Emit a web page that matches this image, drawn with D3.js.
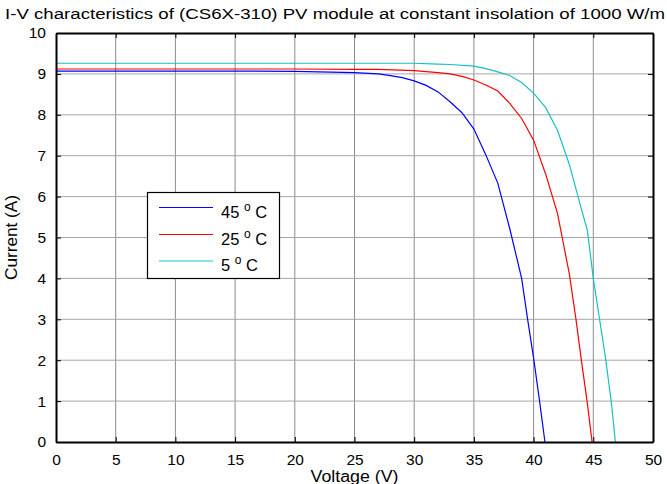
<!DOCTYPE html>
<html>
<head>
<meta charset="utf-8">
<script src="https://cdn.jsdelivr.net/npm/d3@7"></script>
<style>
  html, body { margin: 0; padding: 0; background: #fff; }
  svg { display: block; font-family: "Liberation Sans", Arial, sans-serif; }
</style>
</head>
<body>
<svg id="chart" width="667" height="484"></svg>
<script>
// ---- data ----
const titleText = "I-V characteristics of (CS6X-310) PV module at constant insolation of 1000 W/m";
const xLabel = "Voltage (V)";
const yLabel = "Current (A)";
const xTicks = [0, 5, 10, 15, 20, 25, 30, 35, 40, 45, 50];
const yTicks = [0, 1, 2, 3, 4, 5, 6, 7, 8, 9, 10];
const seriesNames = ["45", "25", "5"];
const seriesColors = ["#0000ff", "#ff0000", "#19bfbf"];

const v45 = [0, 5, 10, 15, 20, 25, 27, 28, 29, 30, 31, 32, 33, 34, 35, 36, 37, 38, 39, 39.5, 40, 40.5, 40.95];
const i45 = [9.07, 9.07, 9.07, 9.07, 9.06, 9.03, 9.00, 8.96, 8.91, 8.83, 8.72, 8.56, 8.32, 8.05, 7.65, 7.02, 6.33, 5.22, 4.0, 3.0, 2.05, 1.0, 0];

const v25 = [0, 10, 20, 25, 27, 30, 32, 33, 34, 35, 36, 37, 38, 39, 40, 41, 42, 43, 43.55, 44, 44.5, 44.9];
const i25 = [9.12, 9.12, 9.12, 9.11, 9.11, 9.08, 9.03, 9.00, 8.94, 8.85, 8.73, 8.58, 8.28, 7.91, 7.38, 6.56, 5.59, 4.1, 3.0, 2.0, 0.95, 0];

const v5 = [0, 10, 20, 30, 32, 33, 35, 36, 37, 38, 39, 40, 41, 42, 43, 44, 44.5, 45, 45.5, 46, 46.5, 46.85];
const i5 = [9.26, 9.26, 9.26, 9.26, 9.24, 9.23, 9.19, 9.13, 9.05, 8.96, 8.79, 8.53, 8.18, 7.62, 6.78, 5.7, 5.18, 4.0, 3.05, 2.1, 1.0, 0];

const seriesV = [v45, v25, v5];
const seriesI = [i45, i25, i5];

// ---- layout ----
const svg = d3.select("#chart");
const L = 56, R = 653, T = 33, B = 442;
const x = d3.scaleLinear().domain([0, 50]).range([L, R]);
const y = d3.scaleLinear().domain([0, 10]).range([B, T]);

// grid
const grid = svg.append("g");
grid.selectAll("line.vg").data(xTicks.slice(1, -1)).enter().append("line")
  .attr("x1", d => x(d)).attr("x2", d => x(d)).attr("y1", T).attr("y2", B)
  .attr("stroke", "#8c8c8c").attr("stroke-width", 1);
grid.selectAll("line.hg").data(yTicks.slice(1, -1)).enter().append("line")
  .attr("x1", L).attr("x2", R).attr("y1", d => y(d)).attr("y2", d => y(d))
  .attr("stroke", "#a6a6a6").attr("stroke-width", 1);

// curves
const line = d3.line().x(d => x(d[0])).y(d => y(d[1]));
seriesV.forEach((vs, k) => {
  const pts = vs.map((v, j) => [v, seriesI[k][j]]);
  svg.append("path").datum(pts).attr("d", line)
    .attr("fill", "none").attr("stroke", seriesColors[k]).attr("stroke-width", 1.2);
});

// axes (inner ticks)
const tickLen = 5;
const xb = svg.append("g").attr("transform", `translate(0,${B})`)
  .call(d3.axisBottom(x).tickValues(xTicks).tickSizeInner(-tickLen).tickSizeOuter(0).tickPadding(12));
const xt = svg.append("g").attr("transform", `translate(0,${T})`)
  .call(d3.axisTop(x).tickValues(xTicks).tickSizeInner(-tickLen).tickSizeOuter(0).tickFormat(""));
const yl = svg.append("g").attr("transform", `translate(${L},0)`)
  .call(d3.axisLeft(y).tickValues(yTicks).tickSizeInner(-tickLen).tickSizeOuter(0).tickPadding(10));
const yr = svg.append("g").attr("transform", `translate(${R},0)`)
  .call(d3.axisRight(y).tickValues(yTicks).tickSizeInner(-tickLen).tickSizeOuter(0).tickFormat(""));
[xb, xt, yl, yr].forEach(g => {
  g.selectAll(".domain").attr("stroke", "#000").attr("stroke-width", 2);
  g.selectAll(".tick line").attr("stroke", "#000");
  g.selectAll(".tick text").attr("fill", "#000").attr("font-size", 15.5)
    .attr("font-family", "Liberation Sans, Arial, sans-serif");
});
xb.selectAll(".tick text").attr("dy", "0.71em");

// title
svg.append("text").attr("x", 5).attr("y", 19).attr("font-size", 15.5)
  .attr("textLength", 660).attr("lengthAdjust", "spacingAndGlyphs")
  .attr("fill", "#000").text(titleText);

// axis labels
svg.append("text").attr("x", (L + R) / 2).attr("y", 482).attr("text-anchor", "middle")
  .attr("font-size", 16).attr("textLength", 88).attr("lengthAdjust", "spacingAndGlyphs")
  .attr("fill", "#000").text(xLabel);
svg.append("text").attr("transform", `translate(17,${(T + B) / 2}) rotate(-90)`)
  .attr("text-anchor", "middle").attr("font-size", 16)
  .attr("textLength", 85).attr("lengthAdjust", "spacingAndGlyphs")
  .attr("fill", "#000").text(yLabel);

// legend
const lg = svg.append("g");
lg.append("rect").attr("x", 147.5).attr("y", 192.5).attr("width", 132).attr("height", 86)
  .attr("fill", "#fff").attr("stroke", "#000").attr("stroke-width", 1.2);
const rows = [207.5, 234.5, 261];
seriesNames.forEach((n, k) => {
  lg.append("line").attr("x1", 159).attr("x2", 213).attr("y1", rows[k]).attr("y2", rows[k])
    .attr("stroke", seriesColors[k]).attr("stroke-width", 1.2);
  const t = lg.append("text").attr("x", 221).attr("y", rows[k] + 10)
    .attr("font-size", 16.5).attr("fill", "#000");
  t.append("tspan").text(n + " ");
  t.append("tspan").attr("font-size", 12).attr("dy", -7).text("o");
  t.append("tspan").attr("dy", 7).text(" C");
});
</script>
</body>
</html>
